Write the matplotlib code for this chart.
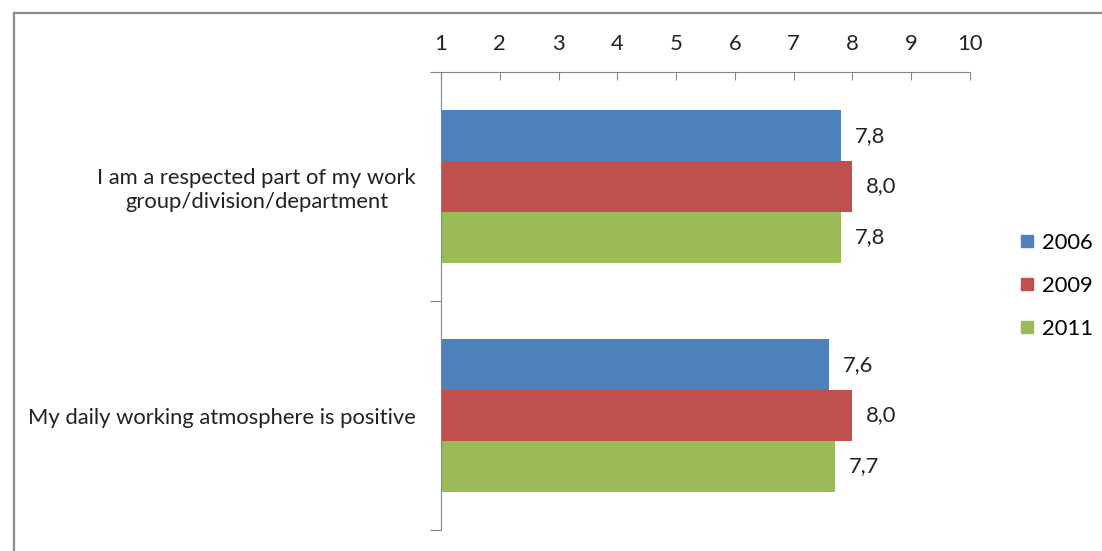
import numpy as np
import matplotlib.pyplot as plt
from matplotlib.lines import Line2D

plt.rcParams['font.family'] = ['Lato', 'DejaVu Sans']

# Data
categories = ['I am a respected part of my work\ngroup/division/department',
              'My daily working atmosphere is positive']
years = ['2006', '2009', '2011']
values = {
    '2006': [7.8, 7.6],
    '2009': [8.0, 8.0],
    '2011': [7.8, 7.7],
}
colors = ['#4F81BD', '#C0504D', '#9BBB59']
x_ticks = [1, 2, 3, 4, 5, 6, 7, 8, 9, 10]

FS = 15.8

fig = plt.figure(figsize=(11.02, 5.51), dpi=100)
ax = fig.add_axes([441/1102, 1 - 530/551, 529/1102, 458/551])

h = 0.222
y = np.arange(len(categories))
for i, yr in enumerate(years):
    vals = np.array(values[yr])
    pos = y + (i - 1)*h
    ax.barh(pos, vals - 1, left=1, height=h, color=colors[i])
    for p, v in zip(pos, vals):
        ax.annotate(('%.1f' % v).replace('.', ','), (v, p),
                    xytext=(10, 0), textcoords='offset points',
                    va='center', ha='left', fontsize=FS, color='#222222')

ax.set_xlim(1, 10)
ax.set_ylim(1.5, -0.5)
ax.xaxis.tick_top()
ax.set_xticks(x_ticks)
ax.set_xticklabels([str(t) for t in x_ticks], fontsize=FS, color='#222222')
ax.tick_params(axis='x', direction='in', length=6, pad=13, color='#868686')

# category boundaries as major ticks, labels on minor ticks
ax.set_yticks([-0.5, 0.5, 1.5])
ax.set_yticklabels([])
ax.set_yticks(y, minor=True)
ax.set_yticklabels(categories, minor=True, fontsize=FS, color='#222222',
                   multialignment='center')
ax.tick_params(axis='y', which='major', direction='out', length=8,
               color='#868686')
ax.tick_params(axis='y', which='minor', length=0, pad=18)

for s in ['right', 'bottom']:
    ax.spines[s].set_visible(False)
for s in ['top', 'left']:
    ax.spines[s].set_color('#868686')

# legend
handles = [Line2D([], [], marker='s', linestyle='none', markersize=9,
                  color=c) for c in colors]
fig.legend(handles, years, loc='upper left', bbox_to_anchor=(994/1102, 1 - 213/551),
           frameon=False, fontsize=FS, handletextpad=0.1, labelspacing=1.05,
           handlelength=1.2)

# outer chart frame
fig.add_artist(Line2D([14/1102, 14/1102], [0, 1 - 13/551],
                      transform=fig.transFigure, color='#8c8c8c', lw=1.6))
fig.add_artist(Line2D([14/1102, 1], [1 - 13/551, 1 - 13/551],
                      transform=fig.transFigure, color='#8c8c8c', lw=1.6))

fig.savefig('out.png', dpi=100)
